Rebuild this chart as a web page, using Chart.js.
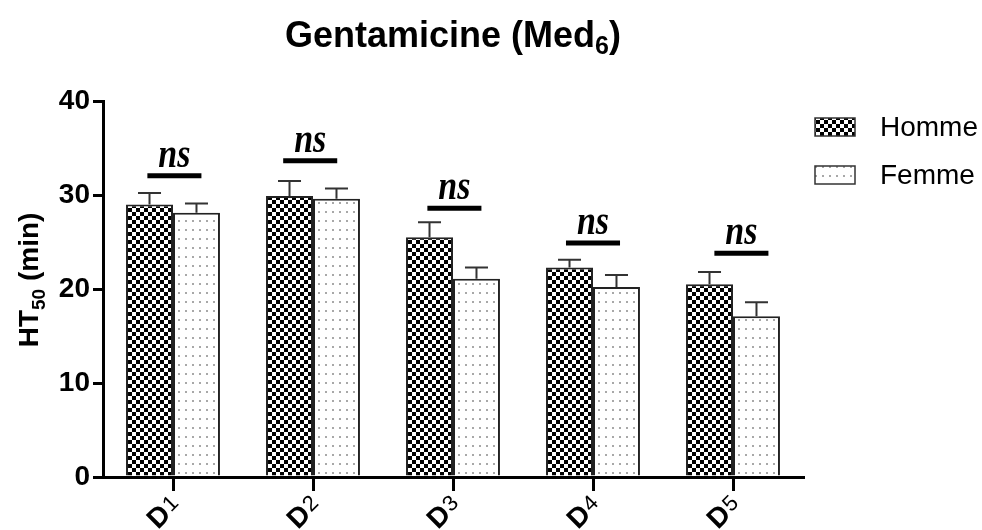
<!DOCTYPE html>
<html>
<head>
<meta charset="utf-8">
<script src="https://cdn.jsdelivr.net/npm/chart.js@4/dist/chart.umd.min.js"></script>
<style>
  html, body { margin: 0; padding: 0; background: #fff; }
  #wrap { width: 982px; height: 530px; position: relative; }
</style>
</head>
<body>
<div id="wrap"><canvas id="c" width="982" height="530"></canvas></div>
<script>
// ---- data ----
const categories = ['D1', 'D2', 'D3', 'D4', 'D5'];
const seriesNames = ['Homme', 'Femme'];
const hommeValues = [29.0, 29.9, 25.5, 22.3, 20.5];
const hommeSEM = [1.2, 1.6, 1.6, 0.8, 1.3];
const femmeValues = [28.1, 29.6, 21.1, 20.2, 17.1];
const femmeSEM = [1.0, 1.1, 1.2, 1.3, 1.5];
const nsLabels = ['ns', 'ns', 'ns', 'ns', 'ns'];
const nsLevels = [32.05, 33.65, 28.6, 24.9, 23.8];
const nsShift = [0.01, -0.02, 0.01, 0.0, 0.06];
const yTicks = [0, 10, 20, 30, 40];
const titleMain = 'Gentamicine (Med';
const titleSub = '6';
const titleEnd = ')';
const yTitleParts = ['HT', '50', ' (min)'];

// ---- patterns ----
function checkerPattern(ctx) {
  const c = document.createElement('canvas');
  c.width = 8; c.height = 8;
  const g = c.getContext('2d');
  g.fillStyle = '#ffffff'; g.fillRect(0, 0, 8, 8);
  g.fillStyle = '#000000';
  g.fillRect(0, 0, 4, 4); g.fillRect(4, 4, 4, 4);
  return ctx.createPattern(c, 'repeat');
}
function dotPattern(ctx) {
  const c = document.createElement('canvas');
  c.width = 7; c.height = 9;
  const g = c.getContext('2d');
  g.fillStyle = '#ffffff'; g.fillRect(0, 0, 7, 9);
  g.fillStyle = '#a8a8a8';
  g.fillRect(3, 4, 2, 2);
  return ctx.createPattern(c, 'repeat');
}

const canvas = document.getElementById('c');
const ctx0 = canvas.getContext('2d');
const patHomme = checkerPattern(ctx0);
const patFemme = dotPattern(ctx0);
const errs = [hommeSEM, femmeSEM];
const patterns = [patHomme, patFemme];

const SANS = '"Liberation Sans", Arial, sans-serif';
const SERIF = '"Liberation Serif", "Times New Roman", serif';

const decor = {
  id: 'decor',
  afterDatasetsDraw(chart) {
    const ctx = chart.ctx, xs = chart.scales.x, ys = chart.scales.y;
    ctx.save();
    // error bars
    ctx.strokeStyle = '#333333';
    ctx.lineWidth = 2;
    chart.data.datasets.forEach((ds, di) => {
      const meta = chart.getDatasetMeta(di);
      meta.data.forEach((bar, i) => {
        const top = ys.getPixelForValue(ds.data[i]);
        const end = ys.getPixelForValue(ds.data[i] + errs[di][i]);
        ctx.beginPath();
        ctx.moveTo(bar.x, top); ctx.lineTo(bar.x, end);
        ctx.moveTo(bar.x - 11.5, end); ctx.lineTo(bar.x + 11.5, end);
        ctx.stroke();
      });
    });
    // ns annotations
    ctx.fillStyle = '#000';
    ctx.strokeStyle = '#000';
    ctx.lineWidth = 5;
    nsLevels.forEach((lv, i) => {
      const cx = xs.getPixelForValue(i + nsShift[i]);
      const half = xs.getPixelForValue(i + 0.193) - xs.getPixelForValue(i);
      const py = ys.getPixelForValue(lv);
      ctx.beginPath();
      ctx.moveTo(cx - half, py); ctx.lineTo(cx + half, py);
      ctx.stroke();
      ctx.save();
      ctx.translate(cx, py - 9);
      ctx.scale(1, 1.2);
      ctx.font = 'bold italic 34px ' + SERIF;
      ctx.textAlign = 'center';
      ctx.textBaseline = 'alphabetic';
      ctx.fillText(nsLabels[i], 0, 0);
      ctx.restore();
    });
    ctx.restore();
  },
  afterDraw(chart) {
    const ctx = chart.ctx, xs = chart.scales.x, ca = chart.chartArea;
    ctx.save();
    ctx.fillStyle = '#000';
    // title
    ctx.textBaseline = 'alphabetic';
    ctx.textAlign = 'left';
    const fMain = 'bold 36px ' + SANS, fSub = 'bold 25px ' + SANS;
    ctx.font = fMain; const w1 = ctx.measureText(titleMain).width; const w3 = ctx.measureText(titleEnd).width;
    ctx.font = fSub; const w2 = ctx.measureText(titleSub).width;
    const tx = (ca.left + ca.right) / 2 - (w1 + w2 + w3) / 2;
    const ty = 47;
    ctx.font = fMain; ctx.fillText(titleMain, tx, ty);
    ctx.font = fSub; ctx.fillText(titleSub, tx + w1, ty + 7);
    ctx.font = fMain; ctx.fillText(titleEnd, tx + w1 + w2, ty);

    // y axis title
    ctx.save();
    const yc = (ca.top + ca.bottom) / 2 - 9;
    ctx.translate(38, yc);
    ctx.rotate(-Math.PI / 2);
    const fA = 'bold 28px ' + SANS, fB = 'bold 19px ' + SANS;
    ctx.font = fA; const a1 = ctx.measureText(yTitleParts[0]).width; const a3 = ctx.measureText(yTitleParts[2]).width;
    ctx.font = fB; const a2 = ctx.measureText(yTitleParts[1]).width;
    let sx = -(a1 + a2 + a3) / 2;
    ctx.font = fA; ctx.fillText(yTitleParts[0], sx, 0);
    ctx.font = fB; ctx.fillText(yTitleParts[1], sx + a1, 7);
    ctx.font = fA; ctx.fillText(yTitleParts[2], sx + a1 + a2, 0);
    ctx.restore();

    // x tick labels (letter + digit, rotated)
    categories.forEach((cat, i) => {
      const px = xs.getPixelForTick(i);
      const letter = cat.charAt(0), digit = cat.slice(1);
      ctx.save();
      ctx.translate(px + 8, 507);
      ctx.rotate(-Math.PI / 4);
      ctx.font = 'bold 28px ' + SANS; const lw = ctx.measureText(letter).width;
      ctx.font = '22px ' + SANS; const dw = ctx.measureText(digit).width;
      ctx.font = 'bold 28px ' + SANS; ctx.fillText(letter, -(lw + dw), 0);
      ctx.font = '22px ' + SANS; ctx.fillText(digit, -dw + 1, -3);
      ctx.restore();
    });

    // legend
    const lx = 815, lys = [127, 175];
    seriesNames.forEach((name, i) => {
      const yy = lys[i];
      ctx.fillStyle = patterns[i];
      ctx.fillRect(lx, yy - 9, 40, 18);
      ctx.strokeStyle = '#333';
      ctx.lineWidth = 1.5;
      ctx.strokeRect(lx, yy - 9, 40, 18);
      ctx.fillStyle = '#000';
      ctx.font = '28px ' + SANS;
      ctx.textBaseline = 'middle';
      ctx.textAlign = 'left';
      ctx.fillText(name, 880, yy + 1);
    });
    ctx.restore();
  }
};

new Chart(canvas, {
  type: 'bar',
  data: {
    labels: categories,
    datasets: [
      { label: seriesNames[0], data: hommeValues, backgroundColor: patHomme, borderColor: '#222', borderWidth: 2, borderSkipped: 'start', barPercentage: 1, categoryPercentage: 0.671 },
      { label: seriesNames[1], data: femmeValues, backgroundColor: patFemme, borderColor: '#222', borderWidth: 2, borderSkipped: 'start', barPercentage: 1, categoryPercentage: 0.671 }
    ]
  },
  options: {
    responsive: false,
    animation: false,
    devicePixelRatio: 1,
    layout: { padding: { left: 0, right: 179, top: 101, bottom: 0 } },
    plugins: { legend: { display: false }, title: { display: false }, tooltip: { enabled: false } },
    scales: {
      x: {
        offset: true,
        grid: { display: true, drawOnChartArea: false, offset: false, tickLength: 14, lineWidth: 3, color: '#000' },
        border: { display: true, color: '#000', width: 3 },
        ticks: { color: 'rgba(0,0,0,0)', maxRotation: 0, autoSkip: false, font: { size: 12 } },
        afterFit(s) { s.height = 53; }
      },
      y: {
        min: 0, max: 40,
        afterBuildTicks(s) { s.ticks = yTicks.map(v => ({ value: v })); },
        grid: { display: true, drawOnChartArea: false, tickLength: 10, lineWidth: 3, color: '#000' },
        border: { display: true, color: '#000', width: 3 },
        ticks: { color: '#000', padding: 3, font: { family: SANS, size: 28, weight: 'bold' } },
        afterFit(s) { s.width = 103; }
      }
    }
  },
  plugins: [decor]
});
</script>
</body>
</html>
